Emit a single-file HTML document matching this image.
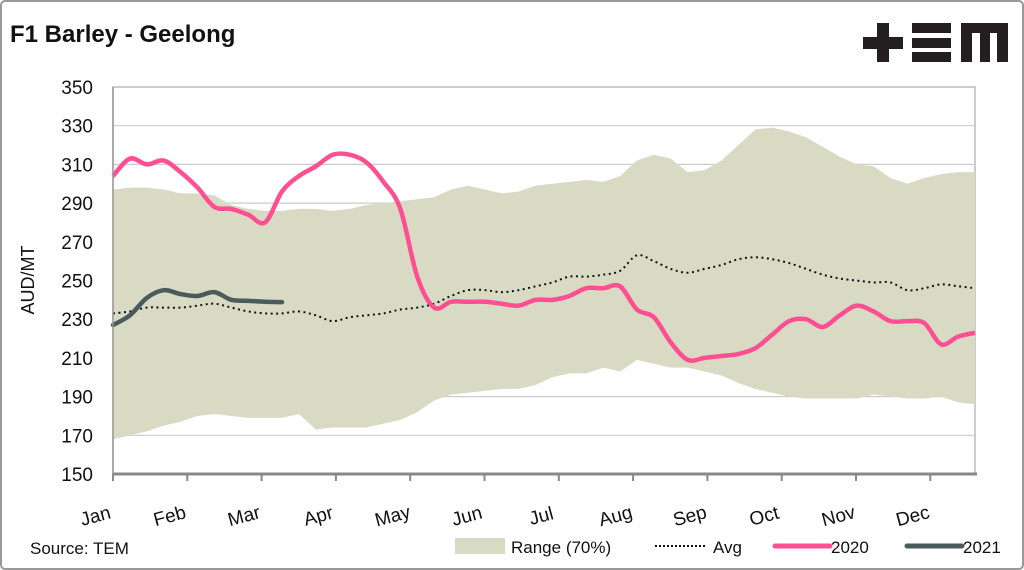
<!DOCTYPE html>
<html><head><meta charset="utf-8"><style>
html,body{margin:0;padding:0;background:#fff;}
svg{display:block;font-family:"Liberation Sans",sans-serif;}
</style></head><body>
<svg width="1024" height="570" viewBox="0 0 1024 570">
<rect x="1" y="1" width="1022" height="568" rx="4" fill="#fff" stroke="#999" stroke-width="2"/>
<text x="10" y="42" font-size="24" font-weight="bold" fill="#111">F1 Barley - Geelong</text>
<g fill="#231f20">
<rect x="863" y="37" width="40" height="12"/><rect x="877" y="23" width="12" height="39"/>
<rect x="912" y="23" width="39" height="10"/><rect x="912" y="38" width="39" height="10"/><rect x="912" y="52" width="39" height="10"/>
<path d="M961 23H1008V62H997V33H990V62H980V33H972V62H961Z"/>
</g>
<g id="grid"></g>
<g id="marks"></g>
<g id="axes"></g>
<text transform="translate(34,280) rotate(-90)" text-anchor="middle" font-size="18" fill="#111">AUD/MT</text>
<text x="30" y="554" font-size="17" fill="#111">Source: TEM</text>
<g font-size="17" fill="#111">
<g><rect x="455" y="538" width="50" height="16" fill="#d9dac4"/><text x="511" y="553">Range (70%)</text></g>
<g><line x1="655" y1="546" x2="706" y2="546" stroke="#111" stroke-width="2" stroke-dasharray="2,2"/><text x="713" y="553">Avg</text></g>
<g><line x1="775" y1="546" x2="830" y2="546" stroke="#ff4f93" stroke-width="5" stroke-linecap="round"/><text x="831" y="553">2020</text></g>
<g><line x1="907" y1="546" x2="962" y2="546" stroke="#4b5a5c" stroke-width="5" stroke-linecap="round"/><text x="963" y="553">2021</text></g>
</g>
</svg>
<script>
const weeks = Array.from({length:52},(_,i)=>i+1);
const months = ["Jan","Feb","Mar","Apr","May","Jun","Jul","Aug","Sep","Oct","Nov","Dec"];
const yTicks = [150,170,190,210,230,250,270,290,310,330,350];
const rangeUpper = [297,298,298,297,295,295,294,289,287,286,286,287,287,286,287,289,290,291,292,293,297,299,297,295,296,299,300,301,302,301,304,312,315,313,306,307,312,320,328,329,327,324,319,314,310,309,303,300,303,305,306,306];
const rangeLower = [168,170,172,175,177,180,181,180,179,179,179,181,173,174,174,174,176,178,182,188,191,192,193,194,194,196,200,202,202,205,203,209,207,205,205,203,201,197,194,192,190,189,189,189,189,191,190,189,189,190,187,186];
const avg = [233,234,236,236,236,237,238,236,234,233,233,234,232,229,231,232,233,235,236,238,242,245,245,244,245,247,249,252,252,253,255,263,260,256,254,256,258,261,262,261,259,256,253,251,250,249,249,245,246,248,247,246];
const s2020 = [304,313,310,312,306,298,288,287,284,280,296,304,309,315,315,311,301,287,252,236,239,239,239,238,237,240,240,242,246,246,247,235,231,218,209,210,211,212,215,222,229,230,226,232,237,234,229,229,228,217,221,223];
const s2021 = [227,232,241,245,243,242,244,240,239.5,239,238.8];

const X0=113,X1=975,Y0=474,Y1=87;
const x = w => X0 + (w-1)*(X1-X0)/51;
const y = v => Y0 - (v-150)*(Y0-Y1)/200;
const NS="http://www.w3.org/2000/svg";
function mk(tag,attrs,parent){const e=document.createElementNS(NS,tag);for(const k in attrs)e.setAttribute(k,attrs[k]);parent.appendChild(e);return e;}
const grid=document.getElementById('grid'),marks=document.getElementById('marks'),axes=document.getElementById('axes');
mk('rect',{x:X0,y:Y1,width:X1-X0,height:Y0-Y1,fill:'#fff',stroke:'#bbb','stroke-width':1.5},grid);
yTicks.forEach(t=>{
  if(t!==150&&t!==350){const l=mk('line',{x1:X0,x2:X1,y1:y(t),y2:y(t),stroke:'#ccc','stroke-width':1.2},grid);
  
  }
  const tx=mk('text',{x:93,y:y(t)+7,'text-anchor':'end','font-size':19,fill:'#111'},axes);
  tx.textContent=t;
  
  
});
function smooth(pts){let d='M'+pts[0][0]+','+pts[0][1];for(let i=1;i<pts.length;i++){const p0=pts[i-2]||pts[i-1],p1=pts[i-1],p2=pts[i],p3=pts[i+1]||p2;
 const c1=[p1[0]+(p2[0]-p0[0])/6,p1[1]+(p2[1]-p0[1])/6],c2=[p2[0]-(p3[0]-p1[0])/6,p2[1]-(p3[1]-p1[1])/6];
 d+=' C'+c1[0]+','+c1[1]+' '+c2[0]+','+c2[1]+' '+p2[0]+','+p2[1];}return d;}
let d='M'+x(1)+','+y(rangeUpper[0]);
rangeUpper.forEach((v,i)=>{d+=' L'+x(weeks[i])+','+y(v);});
for(let i=rangeLower.length-1;i>=0;i--)d+=' L'+x(weeks[i])+','+y(rangeLower[i]);
const area=mk('path',{d:d+'Z',fill:'#d9dac4'},marks);


const avgL=mk('path',{d:smooth(avg.map((v,i)=>[x(weeks[i]),y(v)])),fill:'none',stroke:'#111','stroke-width':2,'stroke-dasharray':'2,3.5'},marks);


const l20=mk('path',{d:smooth(s2020.map((v,i)=>[x(weeks[i]),y(v)])),fill:'none',stroke:'#ff4f93','stroke-width':4.5,'stroke-linejoin':'round'},marks);


const l21=mk('path',{d:smooth(s2021.map((v,i)=>[x(weeks[i]),y(v)])),fill:'none',stroke:'#4b5a5c','stroke-width':4.5,'stroke-linecap':'round'},marks);


mk('line',{x1:X0,x2:X1+2,y1:Y0,y2:Y0,stroke:'#888','stroke-width':3},axes);
mk('line',{x1:X0,x2:X0,y1:Y1,y2:Y0,stroke:'#999','stroke-width':1.5},axes);
months.forEach((m,i)=>{
  const tx0=X0+i*74.3;
  mk('line',{x1:tx0,x2:tx0,y1:Y0,y2:Y0+7,stroke:'#888','stroke-width':2},axes);
  const t=mk('text',{x:0,y:0,'text-anchor':'middle','font-size':19,fill:'#111',transform:'translate('+(tx0-16)+',522) rotate(-15)'},axes);
  t.textContent=m;
  
  
});
</script>
</body></html>
